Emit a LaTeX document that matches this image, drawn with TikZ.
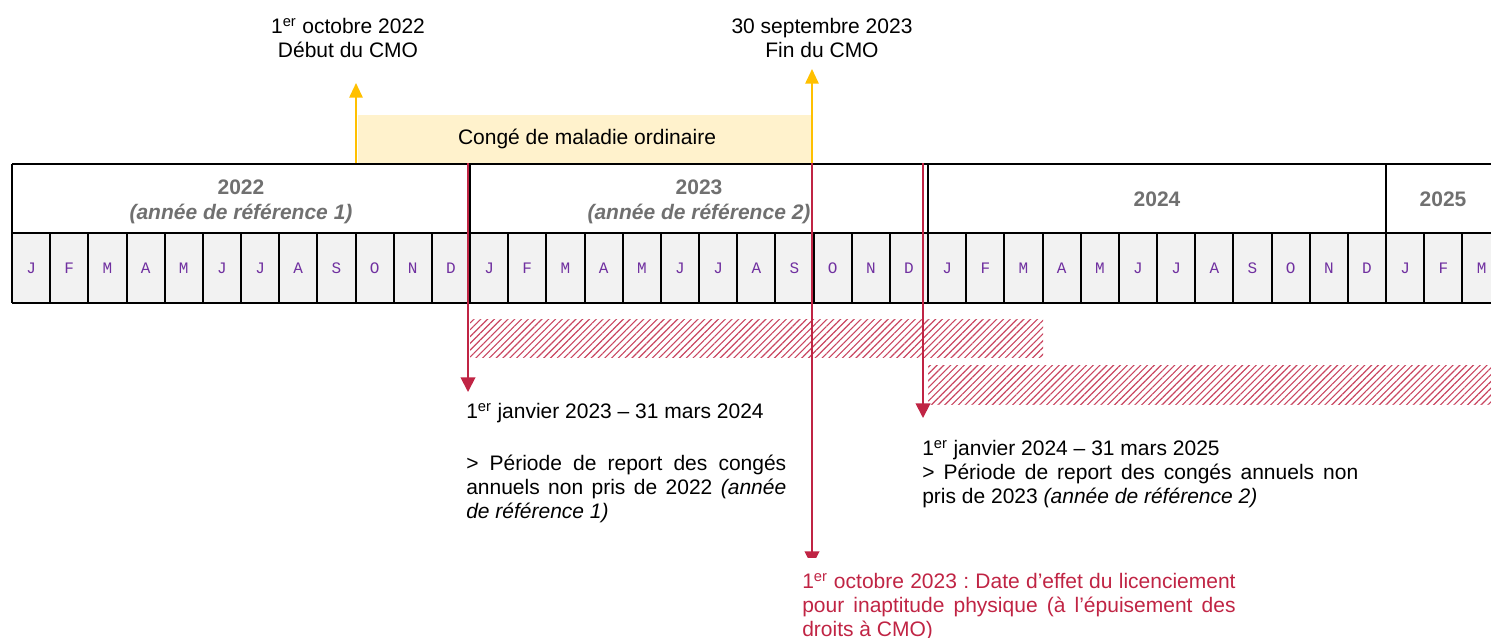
\documentclass[tikz,border=0pt]{standalone}
\usepackage{fontspec}
\setmainfont{Liberation Sans}
\setmonofont{Liberation Mono}
\usetikzlibrary{arrows.meta,patterns.meta}
\definecolor{rouge}{RGB}{192,36,68}
\definecolor{ambre}{RGB}{255,192,0}
\definecolor{creme}{RGB}{255,242,204}
\definecolor{grismois}{RGB}{242,242,242}
\definecolor{gristexte}{RGB}{112,112,112}
\definecolor{violet}{RGB}{112,48,160}
\frenchspacing
\hyphenpenalty=10000

\begin{document}
\begin{tikzpicture}[x=0.75pt,y=-0.75pt,
    font=\fontsize{15.75}{18}\selectfont,
    trait/.style={line width=1.5pt},
    annee/.style={font=\fontsize{15.75}{18.75}\selectfont\bfseries, text=gristexte, align=center},
    lettre/.style={font=\fontsize{12}{14}\selectfont\ttfamily, text=violet},
    hachure/.style={pattern={Lines[angle=45,distance=3.6pt,line width=0.85pt]}, pattern color=rouge!85},
    fleche rouge/.style={draw=rouge, line width=1.4pt, -{Triangle[width=11pt,length=11pt]}},
    fleche jaune/.style={draw=ambre, line width=1.4pt, -{Triangle[width=10pt,length=11pt]}},
    texte/.style={inner sep=0pt, anchor=north west}]
  \useasboundingbox (0,0) rectangle (1491,637);
  \clip (0,0) rectangle (1491,637);

  \fill[hachure] (470,319) rectangle (1043,357);
  \fill[hachure] (928,365) rectangle (1500,404);

  \fill[grismois] (12,233) rectangle (1500,303);
  \draw[trait] (12,164) -- (1500,164) (12,233) -- (1500,233) (12,303) -- (1500,303);
  \foreach \x in {12,470,928,1386}
  \draw[trait] (\x,164) -- (\x,233);
  \foreach \i in {0,...,39}
  \draw[trait] ({12+38.17*\i},233) -- ({12+38.17*\i},303);
  \def\mois{{"J","F","M","A","M","J","J","A","S","O","N","D"}}
  \foreach \i in {0,...,38} {
    \pgfmathtruncatemacro\m{mod(\i,12)}
    \node[lettre] (mois\i) at ({31.08+38.17*\i},268) {\pgfmathparse{\mois[\m]}\pgfmathresult};
  }

  \node[annee] (a2022) at (241,202) {2022\\\textit{(année de référence 1)}};
  \node[annee] (a2023) at (699,202) {2023\\\textit{(année de référence 2)}};
  \node[annee] (a2024) at (1157,199) {2024};
  \node[annee] (a2025) at (1443,199) {2025};

  \fill[creme] (358,115) rectangle (812,163);
  \node (cmo) at (587,139) {Congé de maladie ordinaire};

  \node[align=center] (debut) at (348,38) {1\textsuperscript{er} octobre 2022\\Début du CMO};
  \node[align=center] (fin) at (822,38) {30 septembre 2023\\Fin du CMO};
  \coordinate (debut-pied) at (356,163);
  \coordinate (debut-pointe) at (356,83);
  \coordinate (fin-pied) at (812,163);
  \coordinate (fin-pointe) at (812,69);
  \draw[fleche jaune] (debut-pied) -- (debut-pointe);
  \draw[fleche jaune] (fin-pied) -- (fin-pointe);

  \coordinate (report1-haut) at (468,163);
  \coordinate (report1-pointe) at (468,392);
  \coordinate (report2-haut) at (923,163);
  \coordinate (report2-pointe) at (923,418);
  \coordinate (licenc-haut) at (812,163);
  \coordinate (licenc-pointe) at (812,566);
  \draw[fleche rouge] (report1-haut) -- (report1-pointe);
  \draw[fleche rouge] (report2-haut) -- (report2-pointe);
  \begin{scope}
    \clip (0,0) rectangle (1491,557);
    \draw[fleche rouge] (licenc-haut) -- (licenc-pointe);
  \end{scope}

  \node[texte] (periode1) at (466,403) {1\textsuperscript{er} janvier 2023 – 31 mars 2024};
  \node[texte, text width=240pt, align=justify] (report1) at (466,455)
  {> Période de report des congés annuels non pris de 2022 \textit{(année de référence 1)}};
  \node[texte] (periode2) at (922,440) {1\textsuperscript{er} janvier 2024 – 31 mars 2025};
  \node[texte, text width=327pt, align=justify] (report2) at (922,464)
  {> Période de report des congés annuels non pris de 2023 \textit{(année de référence 2)}};
  \node[texte, text width=325pt, align=justify, text=rouge] (licenciement) at (802,573)
  {1\textsuperscript{er} octobre 2023 : Date d’effet du licenciement pour inaptitude physique (à l’épuisement des droits à CMO)};
\end{tikzpicture}
\end{document}
